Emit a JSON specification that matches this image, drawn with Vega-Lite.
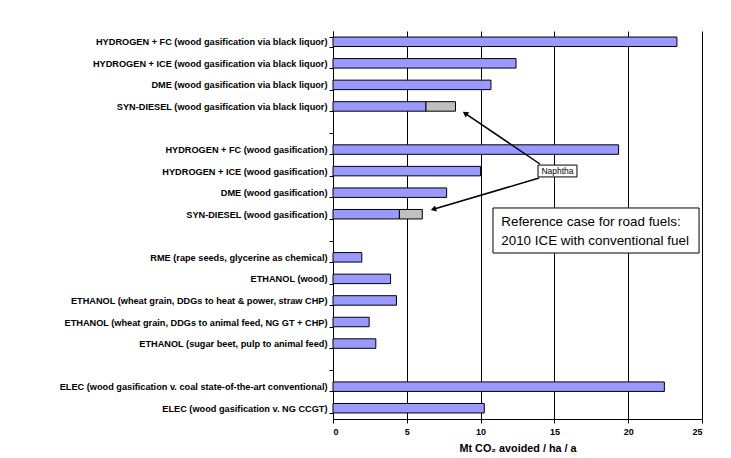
{
  "$schema": "https://vega.github.io/schema/vega-lite/v6.json",
  "width": 369,
  "height": 388,
  "autosize": "none",
  "padding": {"left": 333, "top": 31, "right": 29, "bottom": 39},
  "background": "white",
  "config": {
    "view": {"stroke": null},
    "font": "Liberation Sans",
    "axis": {"labelFont": "Liberation Sans", "titleFont": "Liberation Sans"}
  },
  "resolve": {"scale": {"y": "independent"}},
  "layer": [
    {
      "data": {"values": [
        {"route": "HYDROGEN + FC (wood gasification via black liquor)", "part": "fuel", "value": 23.3},
        {"route": "HYDROGEN + ICE (wood gasification via black liquor)", "part": "fuel", "value": 12.4},
        {"route": "DME (wood gasification via black liquor)", "part": "fuel", "value": 10.7},
        {"route": "SYN-DIESEL (wood gasification via black liquor)", "part": "fuel", "value": 6.3},
        {"route": "SYN-DIESEL (wood gasification via black liquor)", "part": "naphtha", "value": 2.0},
        {"route": "HYDROGEN + FC (wood gasification)", "part": "fuel", "value": 19.35},
        {"route": "HYDROGEN + ICE (wood gasification)", "part": "fuel", "value": 10.0},
        {"route": "DME (wood gasification)", "part": "fuel", "value": 7.7},
        {"route": "SYN-DIESEL (wood gasification)", "part": "fuel", "value": 4.5},
        {"route": "SYN-DIESEL (wood gasification)", "part": "naphtha", "value": 1.55},
        {"route": "RME (rape seeds, glycerine as chemical)", "part": "fuel", "value": 1.95},
        {"route": "ETHANOL (wood)", "part": "fuel", "value": 3.9},
        {"route": "ETHANOL (wheat grain, DDGs to heat & power, straw CHP)", "part": "fuel", "value": 4.3},
        {"route": "ETHANOL (wheat grain, DDGs to animal feed, NG GT + CHP)", "part": "fuel", "value": 2.45},
        {"route": "ETHANOL (sugar beet, pulp to animal feed)", "part": "fuel", "value": 2.9},
        {"route": "ELEC (wood gasification v. coal state-of-the-art conventional)", "part": "fuel", "value": 22.45},
        {"route": "ELEC (wood gasification v. NG CCGT)", "part": "fuel", "value": 10.25}
      ]},
      "mark": {"type": "bar", "stroke": "black", "strokeWidth": 1},
      "encoding": {
        "y": {
          "field": "route", "type": "nominal",
          "scale": {
            "domain": [
              "HYDROGEN + FC (wood gasification via black liquor)",
              "HYDROGEN + ICE (wood gasification via black liquor)",
              "DME (wood gasification via black liquor)",
              "SYN-DIESEL (wood gasification via black liquor)",
              " ",
              "HYDROGEN + FC (wood gasification)",
              "HYDROGEN + ICE (wood gasification)",
              "DME (wood gasification)",
              "SYN-DIESEL (wood gasification)",
              "  ",
              "RME (rape seeds, glycerine as chemical)",
              "ETHANOL (wood)",
              "ETHANOL (wheat grain, DDGs to heat & power, straw CHP)",
              "ETHANOL (wheat grain, DDGs to animal feed, NG GT + CHP)",
              "ETHANOL (sugar beet, pulp to animal feed)",
              "   ",
              "ELEC (wood gasification v. coal state-of-the-art conventional)",
              "ELEC (wood gasification v. NG CCGT)"
            ],
            "paddingInner": 0.56, "paddingOuter": 0.28
          },
          "axis": {
            "title": null, "domainColor": "black", "tickColor": "black", "tickSize": 4,
            "tickBand": "extent", "labelFontWeight": "bold", "labelFontSize": 9.2,
            "labelColor": "black", "labelPadding": 2, "labelLimit": 400
          }
        },
        "x": {
          "field": "value", "type": "quantitative", "stack": "zero",
          "scale": {"domain": [0, 25], "nice": false},
          "axis": {
            "title": "Mt CO₂ avoided / ha / a", "titleFontSize": 10.8, "titleFontWeight": "bold",
            "titleColor": "black", "titlePadding": 6,
            "values": [0, 5, 10, 15, 20, 25], "grid": true, "gridColor": "black", "gridOpacity": 1,
            "domainColor": "black", "tickColor": "black", "tickSize": 4,
            "labelFontWeight": "bold", "labelFontSize": 9, "labelColor": "black", "labelPadding": 4
          }
        },
        "color": {
          "field": "part", "type": "nominal",
          "scale": {"domain": ["fuel", "naphtha"], "range": ["#9999FF", "#C0C0C0"]},
          "legend": null
        }
      }
    },
    {
      "data": {"values": [
        {"ax": 14.02, "ay": 6.17, "bx": 8.95, "by": 3.82},
        {"ax": 13.96, "ay": 6.82, "bx": 6.8, "by": 8.27}
      ]},
      "mark": {"type": "rule", "color": "black", "strokeWidth": 1.5},
      "encoding": {
        "x": {"field": "ax", "type": "quantitative", "scale": {"domain": [0, 25], "nice": false}},
        "x2": {"field": "bx"},
        "y": {"field": "ay", "type": "quantitative", "scale": {"domain": [0, 18], "reverse": true, "nice": false, "zero": false}, "axis": null},
        "y2": {"field": "by"}
      }
    },
    {
      "data": {"values": [{"bx": 8.95, "by": 3.82}]},
      "mark": {"type": "point", "shape": "triangle-up", "filled": true, "color": "black", "size": 40, "angle": 304, "opacity": 1},
      "encoding": {
        "x": {"field": "bx", "type": "quantitative", "scale": {"domain": [0, 25], "nice": false}},
        "y": {"field": "by", "type": "quantitative", "scale": {"domain": [0, 18], "reverse": true, "nice": false, "zero": false}, "axis": null}
      }
    },
    {
      "data": {"values": [{"bx": 6.8, "by": 8.27}]},
      "mark": {"type": "point", "shape": "triangle-up", "filled": true, "color": "black", "size": 40, "angle": 253, "opacity": 1},
      "encoding": {
        "x": {"field": "bx", "type": "quantitative", "scale": {"domain": [0, 25], "nice": false}},
        "y": {"field": "by", "type": "quantitative", "scale": {"domain": [0, 18], "reverse": true, "nice": false, "zero": false}, "axis": null}
      }
    },
    {
      "data": {"values": [
        {"x1": 13.89, "x2": 16.53, "y1": 6.22, "y2": 6.77},
        {"x1": 10.84, "x2": 24.8, "y1": 8.21, "y2": 10.3}
      ]},
      "mark": {"type": "rect", "fill": "white", "stroke": "black", "strokeWidth": 1},
      "encoding": {
        "x": {"field": "x1", "type": "quantitative", "scale": {"domain": [0, 25], "nice": false}},
        "x2": {"field": "x2"},
        "y": {"field": "y1", "type": "quantitative", "scale": {"domain": [0, 18], "reverse": true, "nice": false, "zero": false}, "axis": null},
        "y2": {"field": "y2"}
      }
    },
    {
      "data": {"values": [{"tx": 15.21, "ty": 6.495, "label": "Naphtha"}]},
      "mark": {"type": "text", "fontSize": 8.5, "color": "black", "align": "center", "baseline": "middle", "font": "Liberation Sans"},
      "encoding": {
        "x": {"field": "tx", "type": "quantitative", "scale": {"domain": [0, 25], "nice": false}},
        "y": {"field": "ty", "type": "quantitative", "scale": {"domain": [0, 18], "reverse": true, "nice": false, "zero": false}, "axis": null},
        "text": {"field": "label"}
      }
    },
    {
      "data": {"values": [
        {"tx": 11.4, "ty": 8.84, "label": "Reference case for road fuels:"},
        {"tx": 11.4, "ty": 9.74, "label": "2010 ICE with conventional fuel"}
      ]},
      "mark": {"type": "text", "fontSize": 13.4, "color": "black", "align": "left", "baseline": "middle", "font": "Liberation Sans"},
      "encoding": {
        "x": {"field": "tx", "type": "quantitative", "scale": {"domain": [0, 25], "nice": false}},
        "y": {"field": "ty", "type": "quantitative", "scale": {"domain": [0, 18], "reverse": true, "nice": false, "zero": false}, "axis": null},
        "text": {"field": "label"}
      }
    }
  ]
}
